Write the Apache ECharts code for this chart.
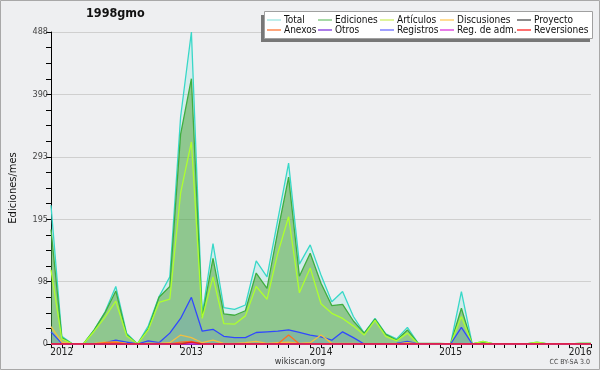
<!DOCTYPE html>
<html>
<head>
<meta charset="utf-8">
<script src="https://cdn.jsdelivr.net/npm/echarts@6/dist/echarts.min.js"></script>
<style>
html,body{margin:0;padding:0;background:#eeeff1;}
#chart{width:600px;height:370px;}
</style>
</head>
<body>
<div id="chart"></div>
<script>
// Months Dec 2011 .. Feb 2016
const months = [];
(function(){ let y=2011,m=12; for(let i=0;i<51;i++){ months.push(y+'-'+String(m).padStart(2,'0')); m++; if(m>12){m=1;y++;} } })();

const yTicks = [0, 98, 195, 293, 390, 488];

const total      = [217,12,0,0,22,50,90,17,0,28,74,105,355,488,46,157,57,54,61,130,105,194,283,125,155,108,66,82,43,17,40,16,8,26,1,0,0,0,82,0,4,0,0,0,0,3,0,0,0,1,1];
const ediciones  = [179,10,0,0,22,49,83,15,0,24,73,90,328,415,42,134,47,45,52,111,87,176,261,106,142,95,60,62,36,17,39,15,6,22,1,1,1,0,56,0,3,0,0,0,0,2,0,0,0,1,1];
const articulos  = [116,8,0,0,20,42,67,13,0,22,65,70,236,316,40,105,32,31,44,90,70,142,199,80,119,63,48,40,28,14,37,12,5,17,0,0,0,0,43,0,4,0,0,0,0,3,0,0,0,1,1];
const discusiones= [27,3,0,0,1,3,3,1,0,1,1,2,14,10,2,6,1,1,2,4,1,2,3,1,2,14,1,1,1,0,0,0,0,2,0,0,0,0,0,0,0,0,0,0,0,0,0,0,0,0,0];
const proyecto   = [0,0,0,0,0,0,0,0,0,0,0,0,1,2,0,0,0,0,0,0,0,0,0,0,0,0,0,0,0,0,0,0,0,0,0,0,0,0,0,0,0,0,0,0,0,0,0,0,0,0,0];
const anexos     = [0,0,0,0,0,2,3,0,0,0,0,0,3,4,0,0,0,0,0,0,0,0,14,0,0,0,0,0,0,0,0,0,0,0,0,0,0,0,0,0,0,0,0,0,0,0,0,0,0,0,0];
const otros      = [0,0,0,0,0,0,0,0,0,0,0,0,0,0,0,0,0,0,0,0,0,0,0,0,0,0,0,0,0,0,0,0,0,0,0,0,0,0,0,0,0,0,0,0,0,0,0,0,0,0,0];
const registros  = [19,1,0,0,0,2,6,3,0,5,2,17,40,73,20,23,12,10,10,18,19,20,22,18,14,11,6,19,10,0,0,0,1,4,0,0,0,0,26,0,0,0,0,0,0,0,0,0,0,0,0];
const regadm     = [0,0,0,0,0,0,0,0,0,0,0,0,0,0,0,0,0,0,0,0,0,0,0,0,0,0,0,0,0,0,0,0,0,0,0,0,0,0,0,0,0,0,0,0,0,0,0,0,0,0,0];
const reversiones= [0,0,0,0,0,0,0,0,0,0,0,0,0,3,0,0,0,0,0,0,0,0,0,0,0,0,0,0,0,0,0,0,0,0,0,0,0,0,0,0,0,0,0,0,0,0,0,0,0,0,0];

const FONT = '"DejaVu Sans Condensed", "DejaVu Sans", sans-serif';

const seriesDefs = [
  {name:'Total', data:total, color:'#38d8c8', legend:'#a8e8e4', area:'rgba(64,224,208,0.15)', z:2},
  {name:'Ediciones', data:ediciones, color:'#3fae3f', legend:'#88cc88', area:'rgba(74,161,50,0.5)', z:3},
  {name:'Artículos', data:articulos, color:'#adff2f', legend:'#d4f07a', z:4},
  {name:'Discusiones', data:discusiones, color:'#f0c040', legend:'#ffd070', z:6},
  {name:'Proyecto', data:proyecto, color:'#555555', legend:'#666666', z:6},
  {name:'Anexos', data:anexos, color:'#ff7020', legend:'#ff8850', z:6},
  {name:'Otros', data:otros, color:'#9030e0', legend:'#9050e0', z:6},
  {name:'Registros', data:registros, color:'#3048ff', legend:'#8080ff', area:'rgba(60,100,255,0.15)', z:5},
  {name:'Reg. de adm.', data:regadm, color:'#e030e0', legend:'#e050e0', z:6},
  {name:'Reversiones', data:reversiones, color:'#e02020', legend:'#ff4040', z:6}
];

const series = seriesDefs.map(s => ({
  type:'line', name:s.name, data:s.data, symbol:'none', z:s.z,
  lineStyle:{color:s.color, width:1.3},
  itemStyle:{color:s.color},
  areaStyle: s.area ? {color:s.area, opacity:1} : undefined
}));

const cols = [[0,5],[1,6],[2,7],[3,8],[4,9]];
const colX = [267,318,380,440,517];
const legends = cols.map((c,i) => ({
  z:50, zlevel:0,
  orient:'vertical', left:colX[i], top:15, itemGap:0, itemWidth:14, itemHeight:1.5,
  icon:'rect', selectedMode:false, padding:0,
  textStyle:{fontFamily:FONT, fontSize:10, color:'#111', lineHeight:10, padding:[0,0,0,-2]},
  data:c.map(k => ({name:seriesDefs[k].name, itemStyle:{color:seriesDefs[k].legend, borderWidth:0}}))
}));

const chart = echarts.init(document.getElementById('chart'));
chart.setOption({
  animation:false,
  backgroundColor:'#eeeff1',
  textStyle:{fontFamily:FONT},
  title:{text:'1998gmo', left:86, top:7, padding:0, textStyle:{fontFamily:FONT, fontSize:12.5, fontWeight:'bold', color:'#111'}},
  legend:legends,
  grid:{left:47, right:9, top:32, bottom:26},
  xAxis:{
    type:'category', data:months, boundaryGap:false,
    axisLine:{lineStyle:{color:'#000', width:1}},
    axisTick:{show:true, interval:0, length:4, lineStyle:{color:'#000'}},
    axisLabel:{interval:0, margin:3, fontSize:10, color:'#222',
      formatter:(v)=> v.endsWith('-01') ? v.slice(0,4) : ''},
    splitLine:{show:false}
  },
  yAxis:{
    type:'value', min:0, max:488, interval:97.6,
    name:'Ediciones/mes', nameLocation:'middle', nameGap:32, nameRotate:90,
    nameTextStyle:{fontFamily:FONT, fontSize:11, color:'#111'},
    axisLine:{show:true, lineStyle:{color:'#000', width:1}},
    axisTick:{show:true, length:5, lineStyle:{color:'#000'}},
    minorTick:{show:true, splitNumber:4, length:5, lineStyle:{color:'#000'}},
    axisLabel:{margin:3, fontSize:9, color:'#444', formatter:(v)=>String(Math.round(v))},
    splitLine:{show:true, lineStyle:{color:'#cfcfcf', width:1}}
  },
  graphic:[
    {type:'rect', z:0, silent:true, shape:{x:0.5,y:0.5,width:599,height:369}, style:{fill:'none', stroke:'#a8a8a8', lineWidth:1}},
    {type:'rect', z:10, silent:true, shape:{x:261,y:15,width:329,height:27}, style:{fill:'#777777'}},
    {type:'rect', z:11, silent:true, shape:{x:264.5,y:11.5,width:328,height:27}, style:{fill:'#ffffff', stroke:'#a0a0a0', lineWidth:1}},
    {type:'text', z:20, silent:true, left:'center', top:357, style:{text:'wikiscan.org', fontFamily:FONT, fontSize:9, fill:'#333'}},
    {type:'text', z:20, silent:true, right:10, top:359, style:{text:'CC BY-SA 3.0', fontFamily:FONT, fontSize:7, fill:'#444'}}
  ],
  series:series
});
</script>
</body>
</html>
